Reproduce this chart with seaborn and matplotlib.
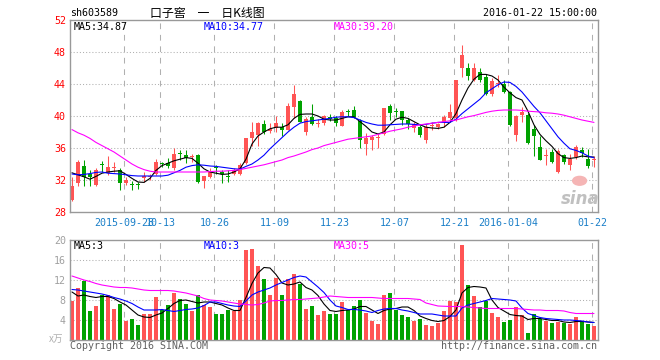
import numpy as np
import pandas as pd
import matplotlib
matplotlib.use("Agg")
import matplotlib.pyplot as plt
import seaborn as sns
from matplotlib.patches import Ellipse

# daily K-line data (2015-09-15 .. 2016-01-22, 88 trading days)
opens = [29.5, 31.6, 33.75, 32.8, 31.4, 33.9, 32.85, 33.5, 33.2, 31.6,
         31.45, 31.4, 32.2, 32.4, 32.75, 34.0, 34.15, 33.5, 35.35, 35.1,
         34.85, 35.1, 31.9, 32.4, 33.5, 33.05, 32.45, 32.8, 32.8, 34.1,
         37.2, 37.6, 39.0, 38.1, 38.45, 38.65, 38.25, 41.1, 41.9, 38.05,
         39.85, 39.05, 39.1, 39.9, 39.7, 38.75, 40.5, 40.75, 39.4, 36.5,
         37.0, 37.3, 37.7, 41.2, 40.5, 40.6, 39.5, 38.45, 38.65, 37.0,
         38.7, 38.65, 39.2, 39.7, 39.7, 46.05, 46.0, 44.5, 45.5, 44.9,
         42.8, 43.95, 44.0, 43.05, 37.6, 40.1, 40.1, 38.4, 36.1, 34.95,
         35.55, 33.05, 35.1, 33.9, 34.85, 35.75, 34.6, 34.45]
highs = [32.4, 34.5, 34.5, 33.2, 33.5, 34.4, 35.0, 34.3, 33.5, 32.4,
         31.9, 31.8, 33.0, 32.75, 34.6, 34.25, 34.8, 35.95, 35.75, 35.75,
         35.25, 35.3, 32.5, 33.45, 33.9, 33.3, 33.25, 33.45, 34.1, 37.3,
         39.2, 39.3, 39.5, 39.1, 40.0, 39.15, 41.6, 43.9, 42.0, 39.9,
         41.5, 39.6, 40.1, 40.25, 40.0, 40.7, 40.85, 41.25, 39.6, 37.85,
         37.6, 37.75, 41.0, 41.5, 40.95, 40.6, 39.8, 39.2, 38.9, 38.95,
         39.2, 39.1, 40.1, 41.45, 44.5, 48.9, 46.6, 46.6, 46.0, 45.3,
         44.7, 45.1, 44.5, 43.1, 40.1, 41.1, 40.35, 38.9, 37.5, 35.85,
         35.85, 35.85, 35.25, 35.25, 36.4, 36.1, 35.85, 35.0]
lows = [29.4, 31.2, 31.2, 31.2, 31.3, 33.0, 32.6, 33.0, 30.8, 31.4,
        30.75, 30.85, 31.8, 32.0, 32.6, 33.6, 33.45, 33.25, 34.5, 34.1,
        34.3, 31.6, 31.0, 32.2, 32.8, 31.6, 31.8, 32.6, 32.6, 34.0,
        36.2, 36.2, 37.8, 37.85, 38.05, 37.5, 38.2, 39.8, 39.2, 37.6,
        38.9, 38.6, 38.9, 39.4, 38.75, 38.7, 40.0, 39.8, 35.95, 35.1,
        35.75, 35.95, 37.6, 39.5, 39.9, 38.9, 38.4, 37.95, 37.4, 36.6,
        38.25, 38.4, 38.65, 39.5, 39.4, 44.9, 44.5, 44.4, 44.3, 42.6,
        42.5, 43.65, 42.85, 38.8, 36.9, 39.3, 36.5, 35.0, 34.5, 33.9,
        34.15, 32.85, 34.0, 33.3, 34.6, 34.9, 33.45, 33.6]
closes = [31.2, 34.25, 32.4, 32.4, 33.3, 33.85, 33.6, 33.55, 31.6, 32.0,
          31.4, 31.35, 32.5, 32.45, 34.3, 33.95, 33.7, 35.25, 35.3, 34.7,
          34.9, 31.8, 32.5, 33.0, 33.45, 32.75, 32.4, 33.2, 33.9, 37.2,
          38.05, 39.1, 38.05, 38.35, 39.15, 38.25, 41.2, 42.75, 39.3, 39.6,
          39.0, 39.1, 40.0, 39.6, 39.1, 40.55, 40.45, 39.9, 37.0, 37.2,
          37.4, 37.35, 40.95, 40.35, 40.45, 39.5, 39.0, 38.95, 37.6, 38.65,
          38.8, 38.95, 39.9, 40.55, 44.5, 47.6, 45.0, 46.0, 44.5, 42.7,
          44.4, 44.0, 43.05, 38.9, 40.0, 40.55, 36.6, 37.5, 34.5, 35.0,
          34.3, 35.65, 34.3, 34.6, 36.1, 35.35, 33.75, 34.5]
volumes = [7.9, 10.5, 11.8, 5.8, 6.8, 9.1, 9.0, 6.2, 7.2, 3.8,
           4.2, 3.0, 5.3, 5.2, 8.7, 6.0, 7.0, 9.5, 8.3, 7.2,
           5.8, 9.1, 7.0, 6.7, 5.3, 5.2, 6.0, 5.9, 8.0, 18.0,
           18.2, 14.8, 12.3, 9.0, 12.5, 9.0, 12.3, 13.3, 11.3, 6.2,
           6.8, 5.0, 5.8, 5.2, 5.2, 7.7, 6.0, 6.8, 8.0, 5.5,
           3.9, 3.2, 9.0, 9.5, 6.1, 5.1, 4.7, 3.9, 4.3, 3.0,
           2.8, 3.5, 5.8, 7.9, 7.7, 19.0, 11.0, 8.8, 6.7, 7.9,
           5.5, 4.7, 3.6, 4.0, 6.6, 5.0, 1.5, 5.2, 4.3, 3.9,
           3.5, 3.7, 3.5, 3.3, 4.7, 3.7, 3.3, 2.9]

# moving-average lines as drawn on the chart
ma5 = [32.9, 32.65, 32.4, 32.1, 32.45, 32.85, 33.0, 33.1, 33.15, 32.7,
       32.2, 31.75, 31.7, 32.2, 33.2, 33.8, 34.1, 34.4, 34.6, 34.8,
       34.7, 34.1, 33.4, 33.0, 32.85, 32.7, 32.75, 33.0, 33.4, 34.6,
       36.5, 37.5, 38.0, 38.4, 38.6, 38.6, 38.9, 39.7, 40.2, 40.25,
       40.25, 40.0, 39.6, 39.5, 39.5, 39.7, 39.9, 39.9, 39.3, 38.7,
       38.0, 37.75, 38.0, 38.9, 39.6, 39.85, 39.7, 39.3, 38.9, 38.6,
       38.5, 38.45, 38.6, 39.2, 40.3, 42.0, 43.5, 44.6, 45.2, 45.2,
       45.0, 44.5, 43.6, 42.9, 42.3, 42.0, 40.6, 38.9, 37.7, 36.9,
       36.2, 35.3, 34.8, 34.7, 34.8, 35.0, 34.9, 34.87]
ma10 = [32.75, 32.65, 32.7, 32.8, 32.95, 33.0, 32.85, 32.8, 32.75, 32.65,
        32.55, 32.5, 32.5, 32.5, 32.5, 32.5, 32.6, 32.9, 33.2, 33.6,
        33.8, 33.9, 33.85, 33.75, 33.7, 33.6, 33.5, 33.4, 33.35, 33.7,
        34.0, 34.5, 35.1, 35.9, 36.6, 37.3, 38.0, 38.6, 39.1, 39.3,
        39.4, 39.5, 39.6, 39.7, 39.85, 39.9, 39.9, 39.8, 39.5, 39.2,
        39.0, 38.85, 38.85, 38.9, 38.95, 39.0, 39.0, 38.95, 38.9, 38.95,
        39.1, 39.2, 39.2, 39.2, 39.6, 40.3, 40.9, 41.5, 42.1, 42.9,
        43.4, 43.9, 44.25, 44.2, 43.7, 43.0, 42.1, 41.2, 40.4, 39.4,
        38.4, 37.4, 36.6, 35.9, 35.7, 35.4, 35.0, 34.77]
ma30 = [38.3, 37.9, 37.6, 37.2, 36.7, 36.3, 35.9, 35.5, 35.0, 34.5,
        34.0, 33.6, 33.3, 33.1, 33.0, 33.0, 33.0, 33.0, 33.0, 33.0,
        33.0, 33.0, 33.0, 33.05, 33.1, 33.1, 33.15, 33.2, 33.3, 33.45,
        33.6, 33.75, 33.9, 34.1, 34.3, 34.5, 34.8, 35.0, 35.25, 35.5,
        35.8, 36.0, 36.3, 36.5, 36.7, 36.9, 37.1, 37.2, 37.3, 37.4,
        37.5, 37.7, 37.9, 38.1, 38.25, 38.4, 38.6, 38.75, 38.9, 39.0,
        39.1, 39.2, 39.3, 39.4, 39.5, 39.7, 39.9, 40.05, 40.25, 40.45,
        40.6, 40.7, 40.75, 40.75, 40.75, 40.7, 40.6, 40.55, 40.5, 40.4,
        40.35, 40.25, 40.1, 39.9, 39.7, 39.5, 39.35, 39.2]
vol_ma5 = [9.6, 8.8, 9.0, 8.7, 8.5, 8.7, 8.7, 8.3, 7.6, 7.0,
           6.0, 5.0, 4.6, 4.5, 5.0, 5.4, 6.3, 7.3, 7.9, 8.0,
           7.7, 7.4, 7.6, 7.6, 7.3, 7.0, 6.4, 5.9, 5.9, 8.5,
           11.3, 13.4, 14.5, 14.4, 13.1, 11.4, 11.0, 11.2, 11.6, 10.5,
           10.0, 8.9, 7.2, 5.9, 5.7, 5.9, 6.0, 6.2, 6.7, 6.7,
           6.0, 5.3, 5.9, 6.2, 6.3, 6.6, 6.6, 5.9, 4.8, 4.3,
           3.9, 3.7, 3.9, 4.7, 6.0, 9.4, 10.5, 10.7, 10.6, 10.4,
           8.0, 6.5, 5.8, 5.1, 4.9, 4.8, 4.1, 4.3, 4.3, 4.1,
           3.9, 3.9, 3.6, 3.5, 3.7, 3.7, 3.6, 3.5]
vol_ma10 = [10.1, 10.0, 9.8, 9.6, 9.4, 9.2, 8.9, 8.5, 8.2, 7.8,
            7.3, 6.6, 6.0, 6.0, 6.0, 6.1, 5.9, 5.7, 5.9, 6.1,
            6.2, 6.4, 6.9, 7.6, 7.6, 7.3, 7.0, 6.8, 6.7, 7.8,
            9.0, 9.6, 10.0, 10.4, 11.0, 11.5, 12.0, 12.5, 12.8, 12.6,
            11.6, 10.6, 9.5, 8.0, 6.8, 6.5, 6.1, 6.1, 6.0, 5.8,
            5.5, 5.9, 6.2, 6.3, 6.3, 6.0, 5.8, 5.5, 5.2, 5.2,
            5.2, 5.0, 4.8, 4.8, 4.8, 6.4, 7.0, 7.3, 7.6, 7.9,
            8.3, 8.2, 8.1, 8.0, 7.8, 6.4, 5.3, 4.9, 4.5, 4.3,
            4.2, 4.1, 4.0, 4.0, 3.9, 3.8, 3.6, 3.5]
vol_ma30 = [12.8, 12.4, 12.0, 11.7, 11.3, 11.0, 10.8, 10.6, 10.5, 10.5,
            10.4, 10.2, 10.0, 9.9, 9.9, 9.9, 9.9, 9.8, 9.6, 9.4,
            9.1, 8.8, 8.3, 8.0, 7.9, 7.8, 7.6, 7.4, 7.2, 7.1,
            7.0, 7.1, 7.4, 7.8, 7.9, 7.9, 8.0, 8.1, 8.1, 8.2,
            8.3, 8.4, 8.6, 8.8, 8.7, 8.6, 8.5, 8.5, 8.5, 8.5,
            8.5, 8.4, 8.3, 8.3, 8.3, 8.3, 8.3, 8.2, 8.1, 7.4,
            7.1, 6.8, 6.75, 6.7, 6.7, 6.7, 6.6, 6.5, 6.4, 6.3,
            6.3, 6.3, 6.3, 6.3, 6.3, 6.2, 6.1, 6.0, 6.0, 5.9,
            5.9, 5.9, 5.8, 5.5, 5.3, 5.3, 5.3, 5.3]

tick_idx = [9, 15, 24, 34, 44, 54, 64, 73, 87]
tick_labels = ["2015-09-28", "10-13", "10-26", "11-09", "11-23",
               "12-07", "12-21", "2016-01-04", "01-22"]
price_ticks = [28, 32, 36, 40, 44, 48, 52]
vol_ticks = [4, 8, 12, 16, 20]

RED, GREEN = "#ff5454", "#00a200"
FRAME, GRID = "#999999", "#b0b0b0"
W, H = 660, 360

sns.set_style("white")
plt.rcParams['font.family'] = ['DejaVu Sans Mono', 'Noto Sans CJK SC']
plt.rcParams['font.size'] = 7.2

fig = plt.figure(figsize=(W / 100, H / 100), dpi=100)


def box(x0, y0, x1, y1):
    # pixel box (top-left origin) -> figure coords
    return [x0 / W, 1 - y1 / H, (x1 - x0) / W, (y1 - y0) / H]


def label(x, y, s, **kw):
    kw.setdefault('va', 'center')
    fig.text(x / W, 1 - y / H, s, **kw)


axp = fig.add_axes(box(70, 20, 598, 212))
axv = fig.add_axes(box(70, 240, 598, 340))

idx = np.arange(len(closes))
o, h, l, c = map(np.array, (opens, highs, lows, closes))
cols = np.where(c >= o, RED, GREEN)
df = pd.DataFrame({'idx': idx, 'ma5': ma5, 'ma10': ma10, 'ma30': ma30,
                   'vol': volumes, 'vma5': vol_ma5, 'vma10': vol_ma10, 'vma30': vol_ma30})

grid_x = np.array(tick_idx) - 0.25
for ax, ylo, yhi, hticks in [(axp, 28, 52, price_ticks[1:-1]), (axv, 0, 20, vol_ticks[:-1])]:
    ax.set_xlim(-0.33, 87.67)
    ax.set_ylim(ylo, yhi)
    for y in hticks:
        ax.axhline(y, color=GRID, lw=0.75, ls=(0, (1, 2)), zorder=0)
    for x in grid_x:
        ax.axvline(x, color=GRID, lw=0.75, ls=(0, (5.5, 5.5)), zorder=0)
    for sp in ax.spines.values():
        sp.set_color(FRAME)
        sp.set_linewidth(1.0)
    ax.tick_params(length=0, pad=3)

# candles
axp.vlines(idx, l, h, colors=cols, linewidth=0.75, zorder=2)
body = np.maximum(np.abs(c - o), 0.125)
axp.bar(idx, body, bottom=np.minimum(o, c), width=0.68, color=cols, linewidth=0, zorder=2)

# volume bars
axv.bar(idx, volumes, width=0.82, color=cols, linewidth=0, zorder=2)

for ax, keys in [(axp, ['ma5', 'ma10', 'ma30']), (axv, ['vma5', 'vma10', 'vma30'])]:
    for key, color in zip(keys, ['black', '#0000ff', '#ff00ff']):
        sns.lineplot(data=df, x='idx', y=key, ax=ax, color=color, linewidth=0.8, zorder=3)
    ax.set_xlabel('')
    ax.set_ylabel('')

axp.set_yticks(price_ticks)
axp.set_yticklabels([str(t) for t in price_ticks], color='#ff0000')
axp.set_xticks(grid_x)
axp.set_xticklabels(tick_labels, color='#1a7fc8')
axp.tick_params(axis='x', pad=4)

axv.set_yticks(vol_ticks)
axv.set_yticklabels([str(t) for t in vol_ticks], color='#a0a0a0')
axv.set_xticks([])

# header
label(70, 13, "sh603589", ha='left', color='black')
label(207, 13, "口子窖　一　日K线图", ha='center', color='black', fontsize=8.6,
      family=['Noto Sans CJK SC', 'DejaVu Sans'])
label(597, 13, "2016-01-22 15:00:00", ha='right', color='black')

# MA legends
label(74, 27, "MA5:34.87", ha='left', color='black')
label(204, 27, "MA10:34.77", ha='left', color='#0000ff')
label(334, 27, "MA30:39.20", ha='left', color='#ff00ff')
label(74, 246, "MA5:3", ha='left', color='black')
label(204, 246, "MA10:3", ha='left', color='#0000ff')
label(334, 246, "MA30:5", ha='left', color='#ff00ff')

# footer
label(56, 339, "x万", ha='center', color='#b0b0b0', fontsize=7, style='italic',
      family=['Noto Sans CJK SC', 'DejaVu Sans'])
label(70, 346, "Copyright 2016 SINA.COM", ha='left', color='#606060')
label(597, 346, "http://finance.sina.com.cn", ha='right', color='#606060')

# sina watermark
axp.add_patch(Ellipse((84.6, 31.9), 2.3, 1.1, color='#f5b5b5', zorder=1))
label(580, 199, "sina", ha='center', color='#c0c0c0', fontsize=12,
      fontweight='bold', style='italic', family=['DejaVu Sans'])

fig.savefig("out.png", dpi=100)
